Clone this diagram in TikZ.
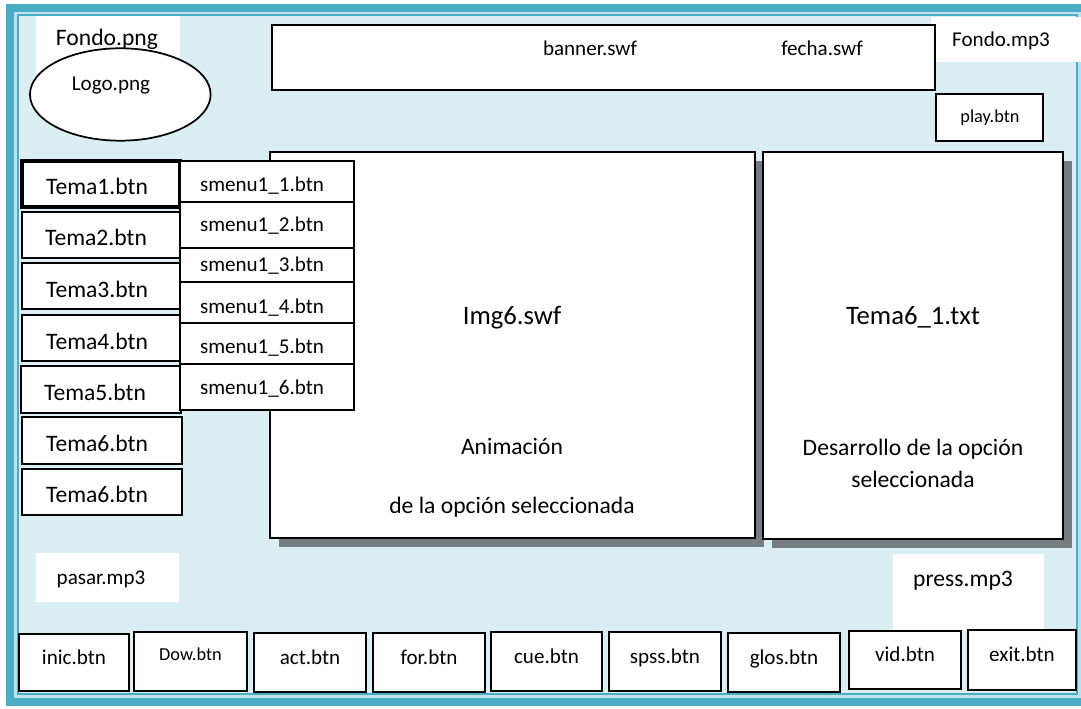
\documentclass[tikz,border=0pt]{standalone}
\usepackage{fontspec}
\setmainfont{Carlito}
\usetikzlibrary{shapes.geometric,shadows}
\definecolor{frameteal}{RGB}{75,172,198}
\definecolor{framestrip}{RGB}{190,226,236}
\definecolor{panelbg}{RGB}{218,238,243}
\definecolor{shadowgray}{RGB}{118,125,128}
% box from pixel corners: #1 style, #2 name, #3 x1, #4 y1, #5 x2, #6 y2
\newcommand{\pxbox}[6]{%
  \pgfmathsetmacro\pxbw{(#5-#3)*0.75}%
  \pgfmathsetmacro\pxbh{(#6-#4)*0.75}%
  \node[#1, minimum width=\pxbw pt, minimum height=\pxbh pt] (#2) at ({(#3+#5)/2},{(#4+#6)/2}) {};}
\begin{document}
\begin{tikzpicture}[x=0.75pt,y=-0.75pt,
  box/.style={draw=black, fill=white, line width=1.5pt, inner sep=0pt, outer sep=0pt, rectangle},
  thickbox/.style={box, line width=2.3pt},
  whitebox/.style={fill=white, draw=none, inner sep=0pt, outer sep=0pt, rectangle},
  panel/.style={box, line width=1.2pt, drop shadow={shadow xshift=7pt, shadow yshift=-6.5pt, fill=shadowgray, opacity=1}},
  lbl/.style={anchor=base, inner sep=0pt, outer sep=0pt},
  tbig/.style={lbl, font=\fontsize{17.7}{21}\selectfont},
  tmed/.style={lbl, font=\fontsize{15.8}{19}\selectfont},
  tsml/.style={lbl, font=\fontsize{13.7}{16}\selectfont},
  ttitle/.style={lbl, font=\fontsize{20}{24}\selectfont}]
\useasboundingbox (0,0) rectangle (1081,709);
\fill[white] (0,0) rectangle (1081,709);
% frame
\fill[framestrip] (6,4) rectangle (1090,706);
\draw[frameteal, line width=6pt] (10,8) rectangle (1086,702);
\draw[frameteal, line width=1.7pt, fill=panelbg] (17.8,14.7) rectangle (1076.7,694.3);

% white sound / background areas
\pxbox{whitebox}{fondopngbg}{36}{16}{180}{73}
\pxbox{whitebox}{fondomp3bg}{931}{17}{1081}{62}
\pxbox{whitebox}{pasarbg}{36}{553}{179}{602}
\pxbox{whitebox}{pressbg}{893}{554}{1044}{630}
\node[tbig] (fondopng) at (107,46) {Fondo.png};
\node[tmed] (fondomp3) at (1001,47) {Fondo.mp3};
\node[tmed] (pasar) at (101,584) {pasar.mp3};
\node[tbig] (press) at (963,586) {press.mp3};

% logo
\node[ellipse, draw=black, fill=white, line width=1.3pt, inner sep=0pt, minimum width=135.5pt, minimum height=69.3pt] (logo) at (120.3,94.5) {};
\node[tmed] (logotxt) at (111,91) {Logo.png};

% banner
\pxbox{box}{banner}{272}{25}{935}{90}
\node[tmed] (bannertxt) at (590,56) {banner.swf};
\node[tmed] (fechatxt) at (822,56) {fecha.swf};

% play
\pxbox{box}{play}{936}{94}{1043}{141}
\node[tsml] (playtxt) at (990,123) {play.btn};

% panels
\pxbox{panel}{img}{270}{152}{755}{538}
\pxbox{panel}{tema61}{763}{152}{1063}{539}
\node[ttitle] (imgtxt) at (512,325) {Img6.swf};
\node[tbig] (anim) at (512,454) {Animación};
\node[tbig] (anim2) at (512,513) {de la opción seleccionada};
\node[ttitle] (tematxt) at (913,325) {Tema6\_1.txt};
\node[tbig] (des1) at (913,455) {Desarrollo de la opción};
\node[tbig] (des2) at (913,487) {seleccionada};

% tema buttons
\pxbox{thickbox}{t1}{22}{161}{180}{207}
\pxbox{box}{t2}{22}{212}{180}{258}
\pxbox{box}{t3}{22}{263}{181}{309}
\pxbox{box}{t4}{22}{315}{181}{361}
\pxbox{box}{t5}{21}{366}{181}{413}
\pxbox{box}{t6}{22}{417}{182}{464}
\pxbox{box}{t7}{22}{469}{182}{515}
\node[tbig] (t1l) at (97,195) {Tema1.btn};
\node[tbig] (t2l) at (96,246) {Tema2.btn};
\node[tbig] (t3l) at (97,297) {Tema3.btn};
\node[tbig] (t4l) at (97,349) {Tema4.btn};
\node[tbig] (t5l) at (95,400) {Tema5.btn};
\node[tbig] (t6l) at (97,451) {Tema6.btn};
\node[tbig] (t7l) at (97,502) {Tema6.btn};

% sub menu
\pxbox{box}{s1}{180}{161}{354}{202}
\pxbox{box}{s2}{180}{202}{354}{248}
\pxbox{box}{s3}{180}{248}{354}{282}
\pxbox{box}{s4}{180}{282}{354}{323}
\pxbox{box}{s5}{180}{323}{354}{364}
\pxbox{box}{s6}{180}{364}{354}{410}
\node[tmed] (s1l) at (262,192) {smenu1\_1.btn};
\node[tmed] (s2l) at (262,232) {smenu1\_2.btn};
\node[tmed] (s3l) at (262,272) {smenu1\_3.btn};
\node[tmed] (s4l) at (262,313) {smenu1\_4.btn};
\node[tmed] (s5l) at (262,353) {smenu1\_5.btn};
\node[tmed] (s6l) at (262,394) {smenu1\_6.btn};

% bottom buttons
\pxbox{box}{b1}{19}{634}{129}{691}
\pxbox{box}{b2}{134}{632}{247}{691}
\pxbox{box}{b3}{254}{633}{366}{692}
\pxbox{box}{b4}{373}{633}{485}{692}
\pxbox{box}{b5}{491}{632}{602}{691}
\pxbox{box}{b6}{609}{632}{721}{691}
\pxbox{box}{b7}{728}{633}{840}{692}
\pxbox{box}{b8}{849}{631}{961}{689}
\pxbox{box}{b9}{968}{630}{1076}{690}
\node[tmed] (b1l) at (74,664) {inic.btn};
\node[tsml] (b2l) at (190.5,660.5) {Dow.btn};
\node[tmed] (b3l) at (310,664) {act.btn};
\node[tmed] (b4l) at (429,664) {for.btn};
\node[tmed] (b5l) at (546.5,663) {cue.btn};
\node[tmed] (b6l) at (665,663) {spss.btn};
\node[tmed] (b7l) at (784,664) {glos.btn};
\node[tmed] (b8l) at (905,661.5) {vid.btn};
\node[tmed] (b9l) at (1022,661) {exit.btn};
\end{tikzpicture}
\end{document}
